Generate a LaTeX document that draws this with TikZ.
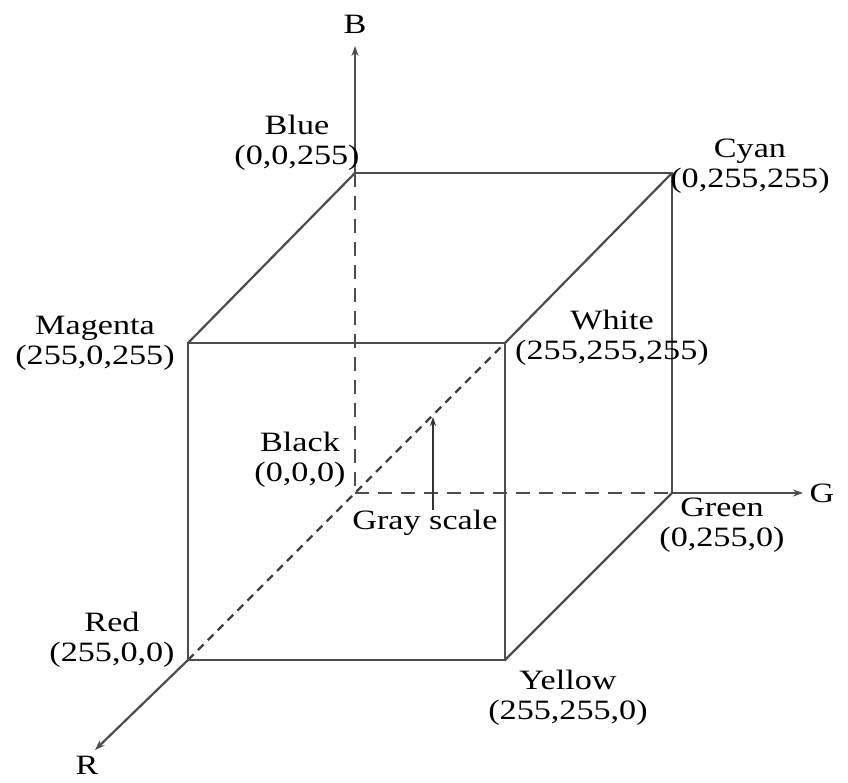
\documentclass[tikz,border=0pt]{standalone}
\usepackage{fontspec}
\setmainfont[FakeStretch=1.22]{Liberation Serif}
\usetikzlibrary{arrows.meta}
\begin{document}
\begin{tikzpicture}[x=1pt,y=-1pt,
  edge/.style={draw=black!70,line width=2.2pt},
  axisdash/.style={draw=black!70,line width=2.2pt,dash pattern=on 14pt off 9pt},
  diagdash/.style={draw=black!75,line width=2.2pt,dash pattern=on 8pt off 6pt},
  axisarrow/.style={draw=black!70,line width=2.2pt,-{Stealth[length=10pt,width=7pt]}},
  lbl/.style={font=\fontsize{28}{30}\selectfont,align=center,inner sep=0pt,text=black}]
\useasboundingbox (0,0) rectangle (848,783);
% corners
\coordinate (K) at (355,493);
\coordinate (Bl) at (355,173);
\coordinate (C) at (672,173);
\coordinate (Gr) at (672,493);
\coordinate (M) at (188,343);
\coordinate (W) at (505,343);
\coordinate (Rd) at (188,660);
\coordinate (Y) at (505,660);
\coordinate (Btip) at (355,46);
\coordinate (Gtip) at (803,493);
\coordinate (Rtip) at (95,750);
\coordinate (GS) at (433,417);
% hidden (dashed) edges
\path[axisdash] (Bl) -- (K);
\path[axisdash] (K) -- (Gr);
\path[diagdash] (Rd) -- (W);
% visible edges
\path[edge] (M) rectangle (Y);
\path[edge] (Bl) -- (C) -- (Gr);
\path[edge] (M) -- (Bl);
\path[edge] (W) -- (C);
\path[edge] (Y) -- (Gr);
% axes
\path[axisarrow] (Bl) -- (Btip);
\path[axisarrow] (Gr) -- (Gtip);
\path[axisarrow] (Rd) -- (Rtip);
% labels
\node[lbl] (lB) at (355,24) {B};
\node[lbl] (lG) at (822,493) {G};
\node[lbl] (lR) at (87,765) {R};
\node[lbl] (nBlue) at (297,143) {Blue\\(0,0,255)};
\node[lbl] (nCyan) at (750,166) {Cyan\\(0,255,255)};
\node[lbl] (nMag) at (95,343) {Magenta\\(255,0,255)};
\node[lbl] (nWhite) at (612,338) {White\\(255,255,255)};
\node[lbl] (nBlack) at (300,460) {Black\\(0,0,0)};
\node[lbl] (nGreen) at (722,525) {Green\\(0,255,0)};
\node[lbl] (nRed) at (112,640) {Red\\(255,0,0)};
\node[lbl] (nYellow) at (568,698) {Yellow\\(255,255,0)};
\node[lbl] (nGray) at (425,523) {Gray scale};
\draw[draw=black!80,line width=1.6pt,-{Stealth[length=9pt,width=6pt]}] (nGray.north -| GS) -- (GS);
\end{tikzpicture}
\end{document}
